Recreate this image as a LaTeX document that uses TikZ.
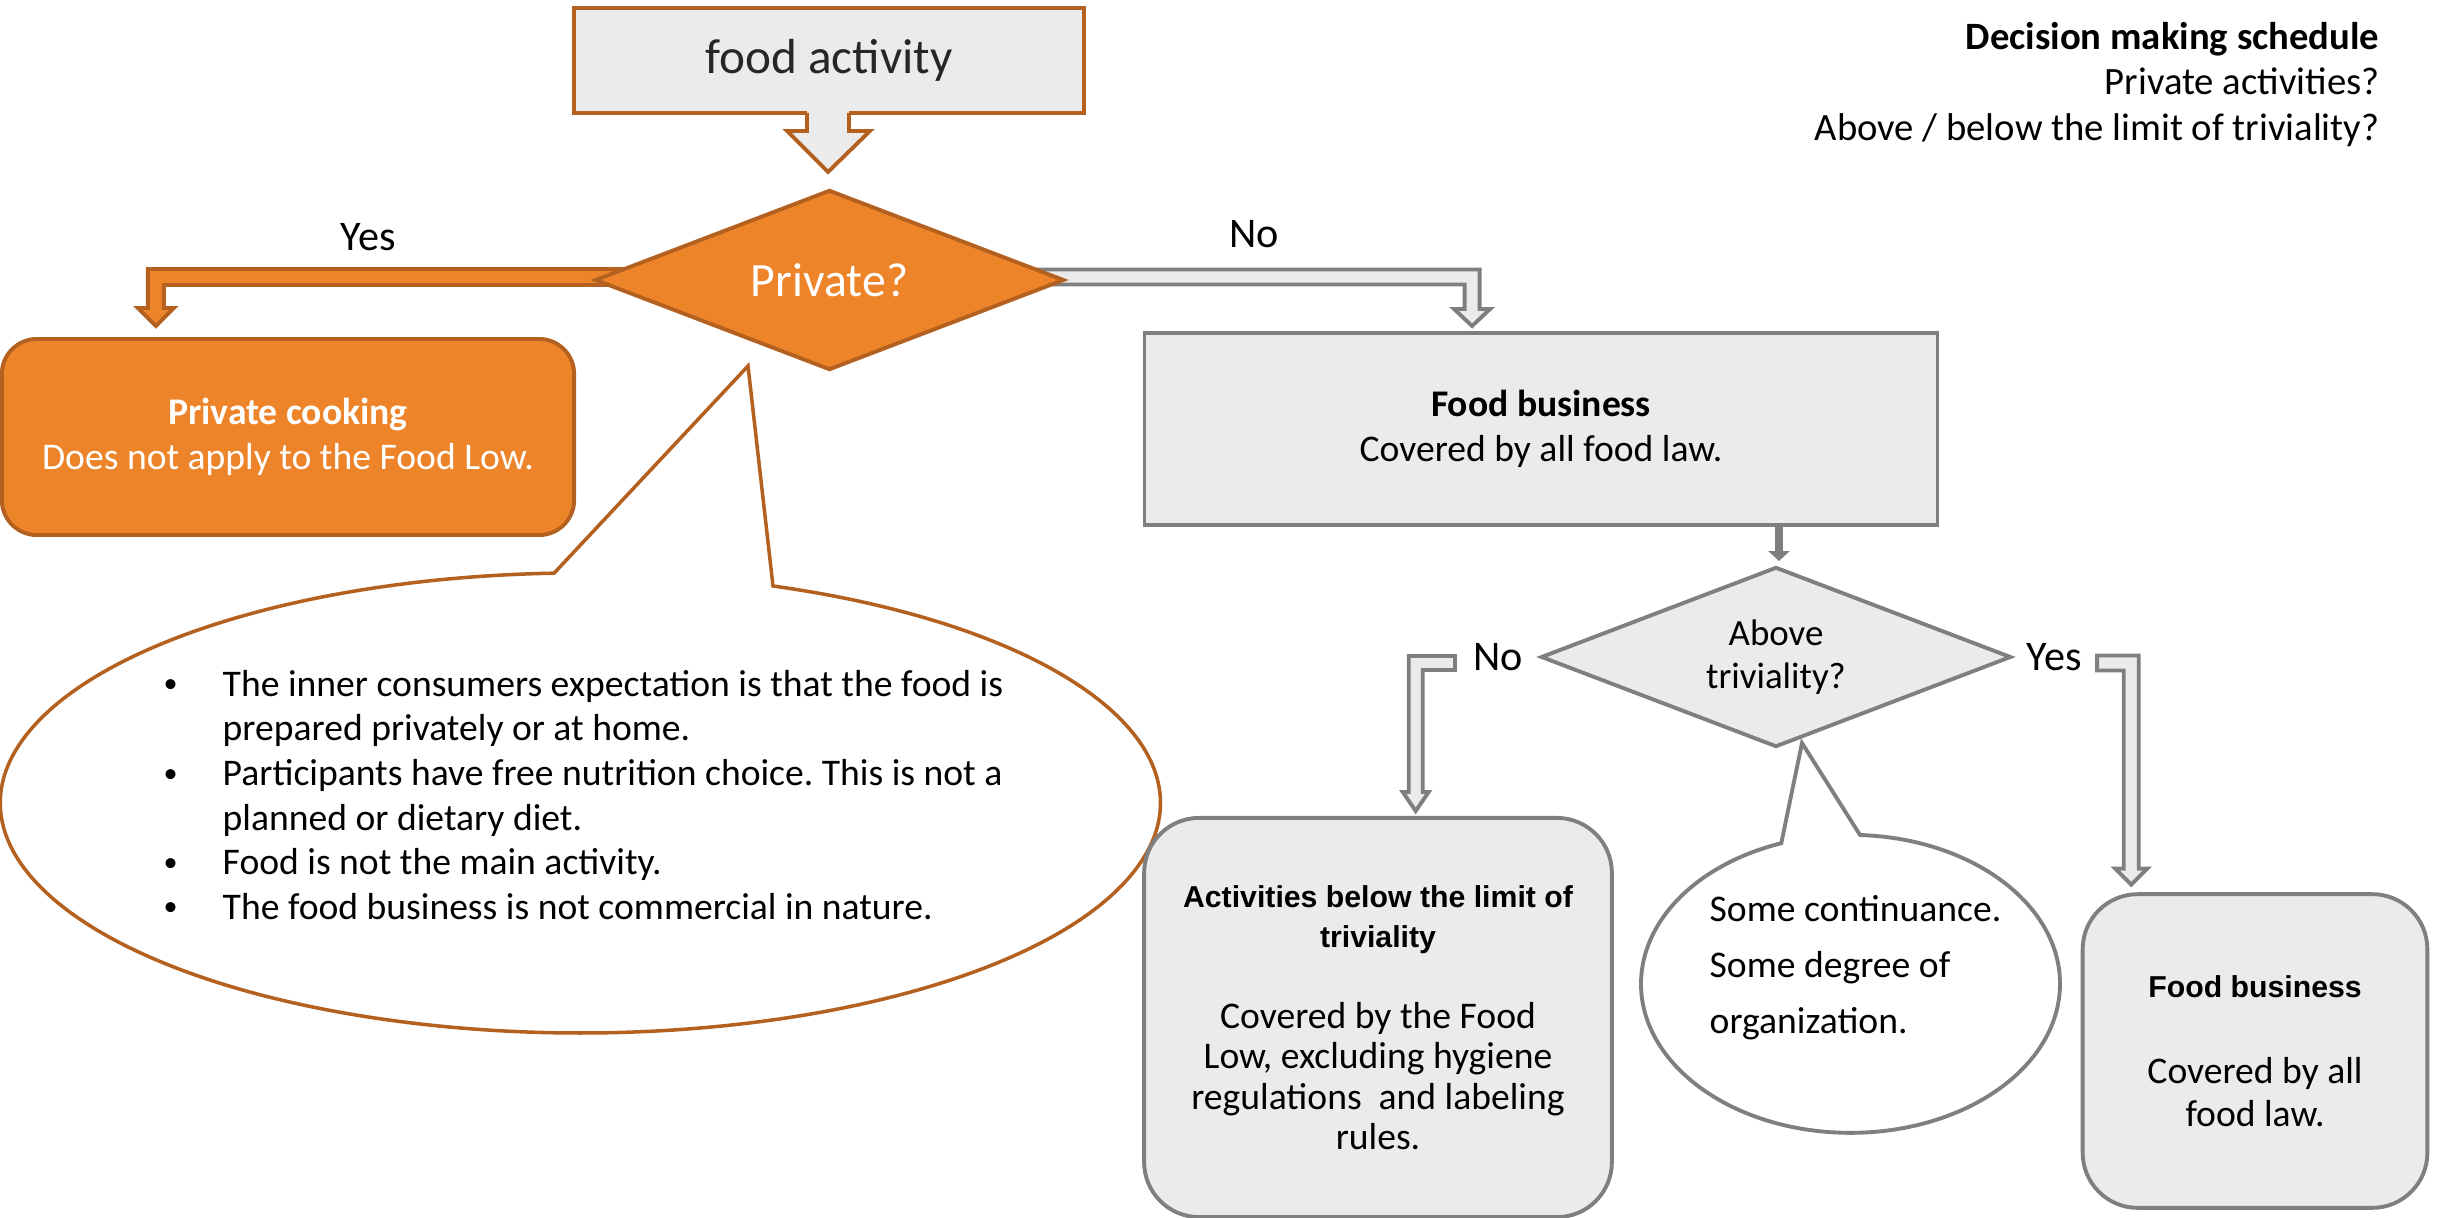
\documentclass[tikz,border=0pt]{standalone}
\usepackage{fontspec}
\setmainfont{Carlito}
\newfontfamily\arialfont{Liberation Sans}
\usetikzlibrary{shapes.geometric,arrows.meta,calc,backgrounds}
\definecolor{ofill}{HTML}{ED842A}
\definecolor{oline}{HTML}{B4601F}
\definecolor{gfill}{HTML}{EBEBEB}
\definecolor{gline}{HTML}{7F7F7F}
\definecolor{dtext}{HTML}{262626}
\newcommand{\fs}[2]{\fontsize{#1}{#2}\selectfont}
\newcommand{\hdr}{\arialfont\bfseries}
\newcommand{\bul}{\makebox[0.61cm][l]{\hspace*{0.02cm}\raisebox{0.2ex}{\fs{8}{10}\textbullet}}}
\frenchspacing
\begin{document}
\begin{tikzpicture}[x=0.01cm,y=-0.01cm,
  obox/.style={draw=oline,fill=ofill,line width=1.1pt},
  gbox/.style={draw=gline,fill=gfill,line width=1.1pt},
  oarrow/.style={draw=oline,fill=ofill,line width=1.1pt,line join=miter},
  garrow/.style={draw=gline,fill=gfill,line width=1.1pt,line join=miter},
  lbl/.style={font=\fs{12}{14},inner sep=0pt}]
\useasboundingbox (0,0) rectangle (2442,1218);

% top box
\node[draw=oline,fill=gfill,line width=1.1pt,minimum width=5.10cm,minimum height=1.05cm,
  font=\fs{14}{17},text=dtext] (fa) at (829,60.5) {food activity};
% down block arrow from top box
\fill[gfill] ($(fa.south)+(-22,-6)$) -- ($(fa.south)+(-22,16)$) -- ($(fa.south)+(-42,16)$)
  -- ($(fa.south)+(-1,57)$) -- ($(fa.south)+(41,16)$) -- ($(fa.south)+(20,16)$)
  -- ($(fa.south)+(20,-6)$) -- cycle;
\draw[draw=oline,line width=1.1pt,line join=miter] ($(fa.south)+(-22,-2)$) -- ($(fa.south)+(-22,16)$) -- ($(fa.south)+(-42,16)$)
  -- ($(fa.south)+(-1,57)$) -- ($(fa.south)+(41,16)$) -- ($(fa.south)+(20,16)$)
  -- ($(fa.south)+(20,-2)$);

% decision Private?
\node[diamond,aspect=2.6,obox,minimum width=4.69cm,minimum height=1.80cm,inner sep=0pt,
  text=white,font=\fs{13.6}{16}] (priv) at (829.5,280) {Private?};

% private cooking
\node[obox,rounded corners=0.35cm,minimum width=5.72cm,minimum height=1.96cm,
  text=white,align=center,font=\fs{10.7}{12.8}] (pc) at (288,437)
  {\textbf{Private cooking}\\Does not apply to the Food Low.};

% food business
\node[gbox,minimum width=7.925cm,minimum height=1.92cm,align=center,font=\fs{10.7}{12.8}]
  (fb) at (1541,429) {\textbf{Food business}\\Covered by all food law.};

% decision triviality
\node[diamond,aspect=2.6,gbox,minimum width=4.70cm,minimum height=1.80cm,inner sep=0pt,
  align=center,font=\fs{10.5}{12.4}] (triv) at (1776,657) {Above\\triviality?};

% callout 1
\coordinate (c1tip) at (748,366);
\draw[draw=oline,line width=1pt,fill=white] (c1tip) -- (773,586)
  arc[start angle=-70.6,end angle=267.4,x radius=580,y radius=230] -- cycle;
\node[anchor=west,inner sep=0pt,align=left,font=\fs{10.7}{12.7}] (bultxt) at (161,795)
  {\bul The inner consumers expectation is that the food is\\
   \hspace*{0.61cm}prepared privately or at home.\\
   \bul Participants have free nutrition choice. This is not a\\
   \hspace*{0.61cm}planned or dietary diet.\\
   \bul Food is not the main activity.\\
   \bul The food business is not commercial in nature.};

% activities box
\node[gbox,rounded corners=0.55cm,minimum width=4.675cm,minimum height=3.99cm,
  align=center,font=\fs{10.7}{11.5}] (act) at (1378,1017.5)
  {{\hdr\fs{8.6}{11.5}Activities below the limit of}\\{\hdr\fs{8.6}{11.5}triviality}\\[11.5pt]
   Covered by the Food\\Low, excluding hygiene\\regulations~ and labeling\\rules.};

% callout 2
\coordinate (c2tip) at (1802,743);
\draw[draw=gline,line width=1.1pt,fill=white] (c2tip) -- (1860,835)
  arc[start angle=-87.4,end angle=250.7,x radius=209.5,y radius=149] -- cycle;
\node[anchor=west,inner sep=0pt,align=left,font=\fs{10.7}{15.9}] (c2txt) at (1709,968)
  {Some continuance.\\Some degree of\\organization.};

% food business 2
\node[gbox,rounded corners=0.55cm,minimum width=3.445cm,minimum height=3.135cm,
  align=center,font=\fs{10.7}{12.2}] (fb2) at (2255,1051)
  {{\hdr\fs{8.6}{12.2}Food business}\\[12.2pt]Covered by all\\food law.};

% title
\node[anchor=east,inner sep=0pt,align=right,font=\fs{11}{12.9}] (title) at (2380,84.5)
  {\textbf{Decision making schedule}\\Private activities?\\Above / below the limit of triviality?};

% labels
\node[lbl] (lyes1) at (368,237) {Yes};
\node[lbl] (lno1) at (1254,234) {No};
\node[lbl] (lno2) at (1498,657) {No};
\node[lbl] (lyes2) at (2054,657) {Yes};

% thin arrow
\draw[gline,line width=2.5pt,-{Triangle[width=0.21cm,length=0.1cm]}]
  ($(triv.north |- fb.south)+(3,0)$) -- ($(triv.north)+(3,-4)$);

% elbow block arrows
\coordinate (yS) at ($(priv.center)+(0,-3)$);
\coordinate (yT) at ($(pc.north west)+(156,-11)$);
\coordinate (nS) at ($(priv.center)+(0,-3)$);
\coordinate (nT) at ($(fb.north west)+(329.5,-5)$);
\coordinate (n2S) at ($(triv.west)+(-84,6)$);
\coordinate (n2T) at ($(act.north west)+(273.5,-5)$);
\coordinate (y2S) at ($(triv.east)+(84,6)$);
\coordinate (y2T) at ($(fb2.north west)+(50.5,-7.6)$);

\begin{pgfonlayer}{background}
\fill[white] (0,0) rectangle (2442,1218);
\filldraw[oarrow] ($(yS)+(0,-8)$) -- ($(yT |- yS)+(-8,-8)$) -- ($(yT)+(-8,-18)$)
  -- ($(yT)+(-18,-18)$) -- (yT) -- ($(yT)+(18,-18)$) -- ($(yT)+(8,-18)$)
  -- ($(yT |- yS)+(8,8)$) -- ($(yS)+(0,8)$) -- cycle;
\filldraw[garrow] ($(nS)+(0,-7.5)$) -- ($(nT |- nS)+(7.5,-7.5)$) -- ($(nT)+(7.5,-17)$)
  -- ($(nT)+(18,-17)$) -- (nT) -- ($(nT)+(-18,-17)$) -- ($(nT)+(-7.5,-17)$)
  -- ($(nT |- nS)+(-7.5,7.5)$) -- ($(nS)+(0,7.5)$) -- cycle;
\filldraw[garrow] ($(n2S)+(0,-7)$) -- ($(n2T |- n2S)+(-7,-7)$) -- ($(n2T)+(-7,-19)$)
  -- ($(n2T)+(-13,-19)$) -- (n2T) -- ($(n2T)+(13,-19)$) -- ($(n2T)+(7,-19)$)
  -- ($(n2T |- n2S)+(7,7)$) -- ($(n2S)+(0,7)$) -- cycle;
\filldraw[garrow] ($(y2S)+(0,-7.5)$) -- ($(y2T |- y2S)+(7.5,-7.5)$) -- ($(y2T)+(7.5,-16)$)
  -- ($(y2T)+(16,-16)$) -- (y2T) -- ($(y2T)+(-16,-16)$) -- ($(y2T)+(-7.5,-16)$)
  -- ($(y2T |- y2S)+(-7.5,7.5)$) -- ($(y2S)+(0,7.5)$) -- cycle;
\end{pgfonlayer}
\end{tikzpicture}
\end{document}
